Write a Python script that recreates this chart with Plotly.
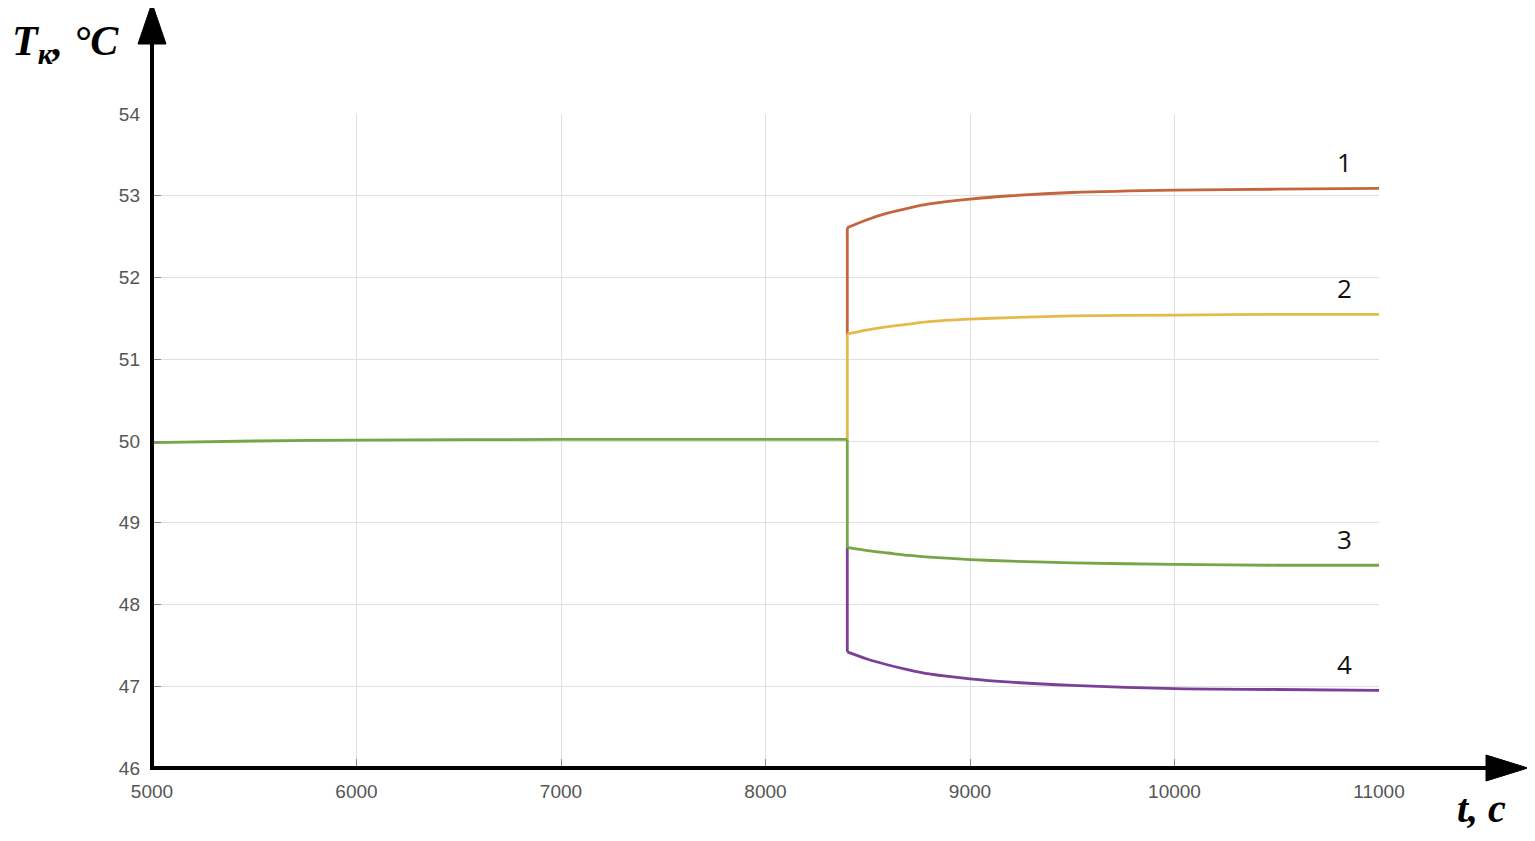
import plotly.graph_objects as go

# ---- data ----
t_base = [5000, 5500, 6000, 7000, 8000, 8400]
T_base = [49.98, 50.00, 50.01, 50.02, 50.02, 50.02]

t_after = [8400, 8500, 8600, 8700, 8800, 9000, 9200, 9500, 10000, 10500, 11000]
T1 = [52.61, 52.71, 52.79, 52.85, 52.90, 52.96, 53.00, 53.04, 53.07, 53.08, 53.09]
T2 = [51.31, 51.36, 51.40, 51.43, 51.46, 51.49, 51.51, 51.53, 51.54, 51.55, 51.55]
T3 = [48.70, 48.66, 48.63, 48.60, 48.58, 48.55, 48.53, 48.51, 48.49, 48.48, 48.48]
T4 = [47.42, 47.33, 47.26, 47.20, 47.15, 47.09, 47.05, 47.01, 46.97, 46.96, 46.95]

curve_labels = ["1", "2", "3", "4"]
x_ticks = [5000, 6000, 7000, 8000, 9000, 10000, 11000]
x_tick_text = ["5000", "6000", "7000", "8000", "9000", "10000", "11000"]
y_ticks = [46, 47, 48, 49, 50, 51, 52, 53, 54]

colors = {"1": "#c4653d", "2": "#e6b94c", "3": "#76a645", "4": "#7b3f98"}

OFF = 8  # page body margin
W, H = 1535 - 2 * OFF, 841 - 2 * OFF
# plot area box in page pixels
L, R, T, B = 152, 1379, 114, 768


def px(xp):
    return (xp - L) / (R - L)


def py(yp):
    return (B - yp) / (B - T)


fig = go.Figure()

t_jump = t_after[0]
lw = 2.8
# vertical jumps
fig.add_trace(go.Scatter(x=[t_jump, t_jump], y=[T_base[-1], T2[0]], mode="lines",
                         line=dict(color=colors["2"], width=lw)))
fig.add_trace(go.Scatter(x=[t_jump, t_jump], y=[T2[0], T1[0]], mode="lines",
                         line=dict(color=colors["1"], width=lw)))
fig.add_trace(go.Scatter(x=[t_jump, t_jump], y=[T3[0], T4[0]], mode="lines",
                         line=dict(color=colors["4"], width=lw)))
fig.add_trace(go.Scatter(x=[t_jump, t_jump], y=[T_base[-1], T3[0]], mode="lines",
                         line=dict(color=colors["3"], width=lw)))
# curves
for key, ser in zip(["2", "1", "4", "3"], [T2, T1, T4, T3]):
    fig.add_trace(go.Scatter(x=t_after, y=ser, mode="lines",
                             line=dict(color=colors[key], width=lw, shape="spline", smoothing=0.8)))
fig.add_trace(go.Scatter(x=t_base, y=T_base, mode="lines",
                         line=dict(color=colors["3"], width=lw, shape="spline", smoothing=0.8)))

# curve number labels
for lab, ser in zip(curve_labels, [T1, T2, T3, T4]):
    fig.add_annotation(x=10830, y=ser[-1], text=lab, showarrow=False,
                       yanchor="bottom", yshift=6, xanchor="center",
                       font=dict(family="Open Sans", size=26, color="#111"))

shapes = []
# y axis line with arrow
shapes.append(dict(type="line", xref="paper", yref="paper",
                   x0=px(L), x1=px(L), y0=py(B + 2), y1=py(38),
                   line=dict(color="black", width=4)))
shapes.append(dict(type="path", xref="paper", yref="paper",
                   path=f"M {px(L)} {py(3)} L {px(L-14)} {py(44)} L {px(L+14)} {py(44)} Z",
                   fillcolor="black", line=dict(color="black", width=1)))
# x axis line with arrow
shapes.append(dict(type="line", xref="paper", yref="paper",
                   x0=px(L - 2), x1=px(1492), y0=py(B), y1=py(B),
                   line=dict(color="black", width=4)))
shapes.append(dict(type="path", xref="paper", yref="paper",
                   path=f"M {px(1528)} {py(B)} L {px(1486)} {py(B-13)} L {px(1486)} {py(B+13)} Z",
                   fillcolor="black", line=dict(color="black", width=1)))
fig.update_layout(shapes=shapes)

# axis titles
fig.add_annotation(xref="paper", yref="paper", x=px(10), y=py(44), xanchor="left", yanchor="middle",
                   text="<b><i>T<sub>к</sub>, °C</i></b>", showarrow=False,
                   font=dict(family="Liberation Serif", size=42, color="black"))
fig.add_annotation(xref="paper", yref="paper", x=px(1508), y=py(808), xanchor="right", yanchor="middle",
                   text="<b><i>t, c</i></b>", showarrow=False,
                   font=dict(family="Liberation Serif", size=40, color="black"))

fig.update_xaxes(range=[5000, 11000], tickvals=x_ticks, ticktext=x_tick_text, showgrid=True,
                 gridcolor="#e0e0e0", gridwidth=1, zeroline=False, showline=False, ticks="inside",
                 ticklen=9, tickcolor="#888",
                 tickfont=dict(family="Liberation Sans", size=19, color="#555"),
                 ticklabelstandoff=10)
fig.update_yaxes(range=[46, 54], tickvals=y_ticks, showgrid=True, gridcolor="#e0e0e0",
                 gridwidth=1, zeroline=False, showline=False, ticks="inside", ticklen=9,
                 tickcolor="#888", tickfont=dict(family="Liberation Sans", size=19, color="#555"),
                 ticklabelstandoff=11)

fig.update_layout(width=W, height=H, showlegend=False,
                  margin=dict(l=L - OFF, r=W - (R - OFF), t=T - OFF, b=H - (B - OFF), autoexpand=False),
                  plot_bgcolor="white", paper_bgcolor="white")

fig.write_html("out.html")
